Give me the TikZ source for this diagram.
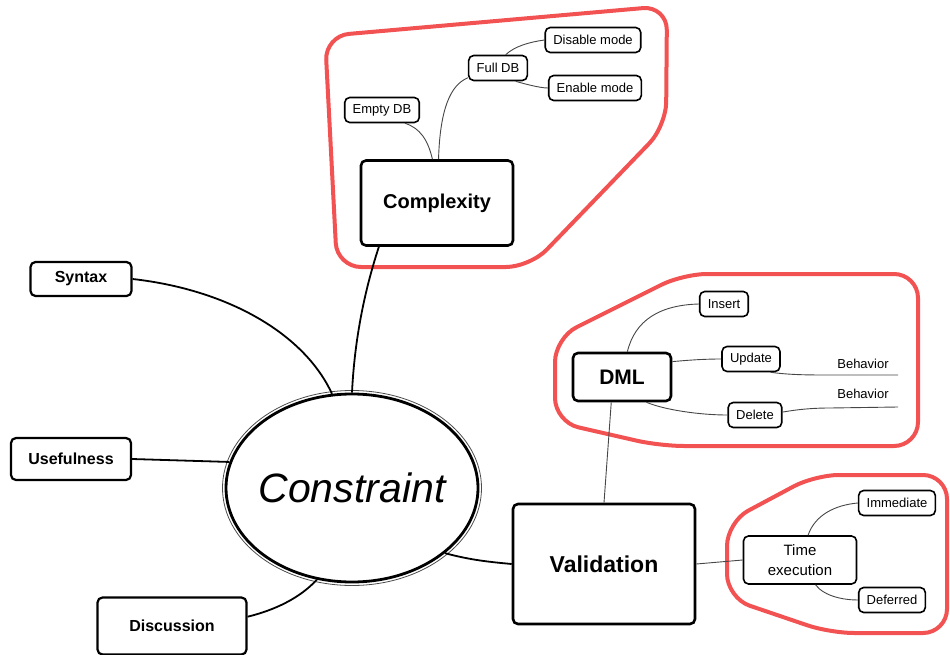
\documentclass[tikz,border=0pt]{standalone}
\usepackage{fontspec}
\setmainfont{Liberation Sans}
\usetikzlibrary{shapes.geometric}
\definecolor{hullred}{RGB}{242,82,82}
\definecolor{twiggray}{RGB}{70,70,70}

\begin{document}
\begin{tikzpicture}[x=1pt,y=-1pt,
    topic/.style={draw,line width=2.6pt,rounded corners=5pt,fill=white},
    leaf/.style={draw,line width=1.6pt,rounded corners=5pt,fill=white,inner xsep=8pt,inner ysep=0pt,minimum height=25pt,font=\fontsize{13}{15}\selectfont},
    hull/.style={draw=hullred,line width=4pt,rounded corners=24pt},
    limb/.style={line width=1.8pt},
    twig/.style={line width=.9pt,twiggray}]
  \useasboundingbox (0,0) rectangle (950,655);
  % red groups
  \draw[hull] (325,36) -- (667,6) -- (666,126) -- (530,267) -- (337,267) -- cycle;
  \draw[hull] (555,338) -- (683,274) -- (918,274) -- (918,446) -- (660,446) -- (555,422) -- cycle;
  \draw[hull] (727,522) -- (815,475) -- (947,475) -- (947,633) -- (830,633) -- (727,598) -- cycle;
  % centre
  \node[ellipse,draw,line width=2.8pt,inner sep=0pt,minimum width=252,minimum height=188,
        font=\fontsize{41}{41}\selectfont\itshape] (constraint) at (352,488) {\makebox[100pt]{Constraint}};
  \draw[line width=.8pt,black!70] (constraint.center) ellipse (129.5 and 97.5);
  % main topics
  \node[topic,minimum width=152,minimum height=85,font=\fontsize{20}{24}\selectfont\bfseries] (complexity) at (437,203) {Complexity};
  \node[topic,minimum width=182,minimum height=120,font=\fontsize{23}{27}\selectfont\bfseries] (validation) at (604,564) {Validation};
  \node[topic,minimum width=98,minimum height=48,font=\fontsize{21}{25}\selectfont\bfseries] (dml) at (622,377) {DML};
  \foreach \name/\x/\y/\w/\h/\txt in {syntax/81/279/101/34/Syntax,usefulness/71/459/120/42/Usefulness,discussion/172/626/149/57/Discussion}
    \node[topic,line width=2.2pt,minimum width=\w,minimum height=\h,font=\fontsize{16}{19}\selectfont\bfseries] (\name) at (\x,\y) {\txt};
  % leaves
  \foreach \name/\x/\y/\txt in {emptydb/382/110/Empty DB,fulldb/498/68/Full DB,disable/593/40/Disable mode,enable/595/88/Enable mode,
      insert/724/304/Insert,update/751/359/Update,delete/755/415/Delete,immediate/897/503/Immediate,deferred/892/600/Deferred}
    \node[leaf] (\name) at (\x,\y) {\txt};
  \node[leaf,minimum width=113,minimum height=48,inner ysep=2pt,align=center,font=\fontsize{15}{20}\selectfont] (timeexec) at (800,560) {Time\\execution};
  \node[font=\fontsize{13}{15}\selectfont] (behupd) at (863,364) {Behavior};
  \node[font=\fontsize{13}{15}\selectfont] (behdel) at (863,394) {Behavior};
  \coordinate (updend) at (898,375);
  \coordinate (delend) at (898,407);
  % branches
  \draw[limb] (syntax.east) .. controls (230,290) and (305,335) .. (constraint.102);
  \draw[limb] (usefulness.east) -- (constraint.168);
  \draw[limb] (discussion.7) .. controls (275,610) and (300,598) .. (constraint.249);
  \draw[limb] (constraint.north) .. controls (355,330) and (368,280) .. (complexity.217);
  \draw[limb] (constraint.325) .. controls (470,560) and (490,562) .. (validation.west);
  \draw[twig] (validation.north) -- (dml.247);
  \draw[twig] (validation.east) -- (timeexec.west);
  \draw[twig] (complexity.96) .. controls (428,140) and (420,128) .. (emptydb.330);
  \draw[twig] (complexity.88) .. controls (440,110) and (450,85) .. (fulldb.198);
  \draw[twig] (fulldb.60) .. controls (515,46) and (530,42) .. (disable.west);
  \draw[twig] (fulldb.323) .. controls (525,84) and (540,88) .. (enable.west);
  \draw[twig] (dml.78) .. controls (635,320) and (660,305) .. (insert.west);
  \draw[twig] (dml.17) .. controls (690,360) and (705,359) .. (update.west);
  \draw[twig] (dml.314) .. controls (665,410) and (700,415) .. (delete.west);
  \draw[twig] (update.326) .. controls (790,375) and (810,375) .. (830,375) -- (updend);
  \draw[twig] (delete.6) .. controls (800,409) and (815,408) .. (830,408) -- (delend);
  \draw[twig] (timeexec.72) .. controls (815,515) and (835,505) .. (immediate.west);
  \draw[twig] (timeexec.302) .. controls (825,597) and (845,600) .. (deferred.west);
\end{tikzpicture}
\end{document}
